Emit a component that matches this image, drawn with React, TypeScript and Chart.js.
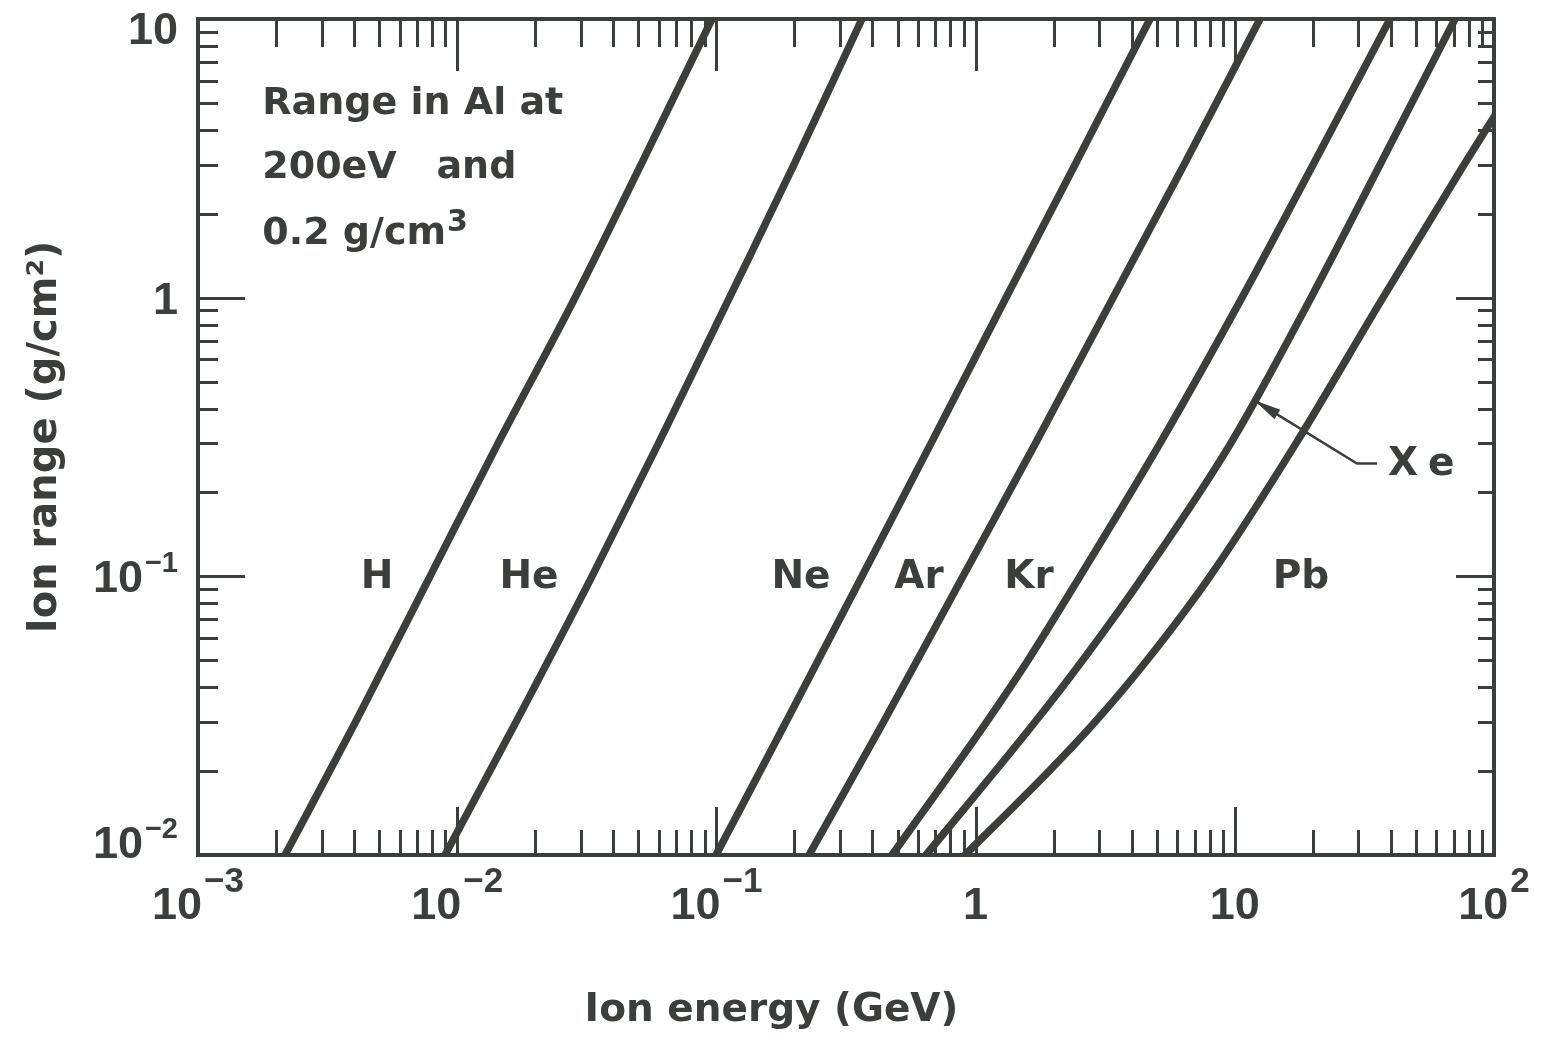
import React, { useEffect, useRef } from 'react';
import { Chart, registerables } from 'chart.js';

Chart.register(...registerables);

const INK = '#3a3f3b';
const TEXT_FAMILY = '"DejaVu Sans", "Liberation Sans", sans-serif';
const NUM_FAMILY = '"Liberation Sans", "DejaVu Sans", sans-serif';

// ---- curves: ion energy (GeV) vs. range in Al (g/cm^2) ----
const hEnergy = [0.002166, 0.004053, 0.007855, 0.01437, 0.02848, 0.05118, 0.09617];
const hRange = [0.01, 0.03, 0.1, 0.3, 1, 3, 10];
const heEnergy = [0.008973, 0.01686, 0.03312, 0.05978, 0.1123, 0.1992, 0.3645];
const heRange = [0.01, 0.03, 0.1, 0.3, 1, 3, 10];
const neEnergy = [0.09965, 0.1856, 0.3645, 0.6728, 1.310, 2.418, 4.709];
const neRange = [0.01, 0.03, 0.1, 0.3, 1, 3, 10];
const arEnergy = [0.2276, 0.4413, 0.8942, 1.702, 3.390, 6.370, 12.51];
const arRange = [0.01, 0.03, 0.1, 0.3, 1, 3, 10];
const krEnergy = [0.4759, 1.102, 1.593, 2.528, 5.145, 10.66, 20.04, 39.70];
const krRange = [0.01, 0.03, 0.05, 0.1, 0.3, 1, 3, 10];
const xeEnergy = [0.6436, 1.695, 2.587, 4.425, 9.642, 19.68, 36.32, 70.72];
const xeRange = [0.01, 0.03, 0.05, 0.1, 0.3, 1, 3, 10];
const pbEnergy = [0.9102, 1.920, 2.888, 4.585, 8.023, 17.22, 37.30, 76.59, 100];
const pbRange = [0.01, 0.02, 0.03, 0.05, 0.1, 0.3, 1, 3, 4.45];

const seriesNames = ['H', 'He', 'Ne', 'Ar', 'Kr', 'Xe', 'Pb'];
const seriesEnergy = [hEnergy, heEnergy, neEnergy, arEnergy, krEnergy, xeEnergy, pbEnergy];
const seriesRange = [hRange, heRange, neRange, arRange, krRange, xeRange, pbRange];

// ---- axes ----
const xMin = 0.001;
const xMax = 100;
const yMin = 0.01;
const yMax = 10;
const xTickValues = [0.001, 0.01, 0.1, 1, 10, 100];
const xTickBase = ['10', '10', '10', '1', '10', '10'];
const xTickExp = ['\u22123', '\u22122', '\u22121', '', '', '2'];
const yTickValues = [0.01, 0.1, 1, 10];
const yTickBase = ['10', '10', '1', '10'];
const yTickExp = ['\u22122', '\u22121', '', ''];
const minorSteps = [1, 2, 3, 4, 5, 6, 7, 8, 9];
const xTitle = 'Ion energy (GeV)';
const yTitle = 'Ion range (g/cm\u00B2)';

// ---- annotations (anchored in data units) ----
const curveLabelNames = ['H', 'He', 'Ne', 'Ar', 'Kr', 'Pb'];
const curveLabelEnergy = [0.004905, 0.01892, 0.212, 0.6047, 1.607, 18.0];
const curveLabelRange = [0.1, 0.1, 0.1, 0.1, 0.1, 0.1];
const xeLabelText = 'Xe';
const xeLabelEnergy = 39.0;
const xeLabelRange = 0.254;
const xeLeaderEnergy = [35.4, 29.6, 11.9];
const xeLeaderRange = [0.254, 0.254, 0.428];
const noteLines = ['Range in Al at', '200eV   and', '0.2 g/cm'];
const noteSup = ['', '', '3'];
const noteEnergy = 0.00177;
const noteRange = [4.565, 2.692, 1.561];

function drawPower(ctx: any, base: string, exp: string, x: number, cy: number, align: string, baseSize: number, expSize: number, raise: number) {
  ctx.textBaseline = 'alphabetic';
  ctx.textAlign = 'left';
  ctx.font = `bold ${baseSize}px ${NUM_FAMILY}`;
  const bw = ctx.measureText(base).width;
  let ew = 0;
  if (exp) {
    ctx.font = `bold ${expSize}px ${NUM_FAMILY}`;
    ew = ctx.measureText(exp).width + 2;
  }
  const total = bw + ew;
  const left = align === 'center' ? x - total / 2 : x - total;
  const baseline = cy + baseSize * 0.716 / 2;
  ctx.font = `bold ${baseSize}px ${NUM_FAMILY}`;
  ctx.fillText(base, left, baseline);
  if (exp) {
    ctx.font = `bold ${expSize}px ${NUM_FAMILY}`;
    ctx.fillText(exp, left + bw + 2, baseline - raise);
  }
}

const decorPlugin = {
  id: 'decor',
  afterDatasetsDraw(chart: any) {
    const { ctx, chartArea: a } = chart;
    const xs = chart.scales.x;
    const ys = chart.scales.y;
    ctx.save();
    ctx.strokeStyle = INK;
    ctx.fillStyle = INK;
    ctx.lineCap = 'butt';

    // inward tick marks on all four sides
    ctx.lineWidth = 3;
    xTickValues.forEach((dec) => {
      minorSteps.forEach((m) => {
        const v = dec * m;
        if (v <= xMin * 1.0001 || v >= xMax * 0.9999) return;
        const px = Math.round(xs.getPixelForValue(v)) + 0.5;
        const major = m === 1;
        ctx.beginPath();
        ctx.moveTo(px, a.bottom);
        ctx.lineTo(px, a.bottom - (major ? 48 : 25));
        ctx.moveTo(px, a.top);
        ctx.lineTo(px, a.top + (major ? 52 : 28));
        ctx.stroke();
      });
    });
    yTickValues.forEach((dec) => {
      minorSteps.forEach((m) => {
        const v = dec * m;
        if (v <= yMin * 1.0001 || v >= yMax * 0.9999) return;
        const py = Math.round(ys.getPixelForValue(v)) + 0.5;
        const major = m === 1;
        ctx.beginPath();
        ctx.moveTo(a.left, py);
        ctx.lineTo(a.left + (major ? 47 : 20), py);
        ctx.moveTo(a.right, py);
        ctx.lineTo(a.right - (major ? 38 : 16), py);
        ctx.stroke();
      });
    });

    // frame
    ctx.lineWidth = 4;
    ctx.strokeRect(a.left, a.top, a.right - a.left, a.bottom - a.top);

    // tick labels
    xTickValues.forEach((v, i) => {
      drawPower(ctx, xTickBase[i], xTickExp[i], xs.getPixelForValue(v), a.bottom + 48, 'center', 45, 35, 27);
    });
    yTickValues.forEach((v, i) => {
      const py = Math.max(a.top + 9, Math.min(ys.getPixelForValue(v), a.bottom - 13));
      drawPower(ctx, yTickBase[i], yTickExp[i], a.left - 20, py, 'right', 45, 29, 20);
    });

    // curve labels
    ctx.font = `bold 39px ${TEXT_FAMILY}`;
    ctx.textAlign = 'center';
    ctx.textBaseline = 'middle';
    curveLabelNames.forEach((name, i) => {
      ctx.fillText(name, xs.getPixelForValue(curveLabelEnergy[i]), ys.getPixelForValue(curveLabelRange[i]) + 2);
    });

    // Xe label with leader and arrow
    ctx.textAlign = 'left';
    try { ctx.letterSpacing = '11px'; } catch (e) {}
    ctx.fillText(xeLabelText, xs.getPixelForValue(xeLabelEnergy), ys.getPixelForValue(xeLabelRange) + 1);
    try { ctx.letterSpacing = '0px'; } catch (e) {}
    const pts = xeLeaderEnergy.map((e, i) => [xs.getPixelForValue(e), ys.getPixelForValue(xeLeaderRange[i])]);
    ctx.lineWidth = 2.5;
    ctx.beginPath();
    pts.forEach((p, i) => (i === 0 ? ctx.moveTo(p[0], p[1]) : ctx.lineTo(p[0], p[1])));
    ctx.stroke();
    const tip = pts[pts.length - 1];
    const prev = pts[pts.length - 2];
    const dx = tip[0] - prev[0];
    const dy = tip[1] - prev[1];
    const len = Math.hypot(dx, dy);
    const ux = dx / len;
    const uy = dy / len;
    const bx = tip[0] - ux * 27;
    const by = tip[1] - uy * 27;
    ctx.beginPath();
    ctx.moveTo(tip[0], tip[1]);
    ctx.lineTo(bx - uy * 5.5, by + ux * 5.5);
    ctx.lineTo(bx + uy * 5.5, by - ux * 5.5);
    ctx.closePath();
    ctx.fill();

    // note block
    ctx.textAlign = 'left';
    ctx.textBaseline = 'alphabetic';
    noteLines.forEach((line, i) => {
      const nx = xs.getPixelForValue(noteEnergy);
      const ny = ys.getPixelForValue(noteRange[i]);
      ctx.font = `bold 38px ${TEXT_FAMILY}`;
      ctx.fillText(line, nx, ny);
      if (noteSup[i]) {
        const w = ctx.measureText(line).width;
        ctx.font = `bold 30px ${TEXT_FAMILY}`;
        ctx.fillText(noteSup[i], nx + w + 1, ny - 13);
      }
    });

    ctx.restore();
  },
};

export default function App() {
  const ref = useRef<HTMLCanvasElement>(null);
  useEffect(() => {
    const datasets = seriesNames.map((name, i) => ({
      label: name,
      data: seriesEnergy[i].map((x, j) => ({ x, y: seriesRange[i][j] })),
      borderColor: INK,
      backgroundColor: INK,
      borderWidth: 7.5,
      borderCapStyle: 'square',
      borderJoinStyle: 'round',
      pointRadius: 0,
      cubicInterpolationMode: 'monotone',
      fill: false,
      clip: 0,
    }));
    const chart = new Chart(ref.current as HTMLCanvasElement, {
      type: 'line',
      data: { datasets } as any,
      options: {
        responsive: false,
        animation: false,
        devicePixelRatio: 1,
        layout: { padding: 0 },
        events: [],
        plugins: {
          legend: { display: false },
          tooltip: { enabled: false },
          title: {
            display: true,
            position: 'bottom',
            text: xTitle,
            color: INK,
            font: { family: TEXT_FAMILY, size: 39, weight: 'bold', lineHeight: 1 },
            padding: { top: 0, bottom: 1 },
          },
        },
        scales: {
          x: {
            type: 'logarithmic',
            position: 'bottom',
            min: xMin,
            max: xMax,
            grid: { display: false },
            border: { display: false },
            ticks: { display: false },
            afterFit: (s: any) => {
              s.height = 136;
              s.paddingLeft = 0;
              s.paddingRight = 41;
            },
          },
          y: {
            type: 'logarithmic',
            position: 'left',
            min: yMin,
            max: yMax,
            grid: { display: false },
            border: { display: false },
            ticks: { display: false },
            title: {
              display: true,
              text: yTitle,
              color: INK,
              font: { family: TEXT_FAMILY, size: 40, weight: 'bold', lineHeight: 1 },
              padding: { top: 18, bottom: 0 },
            },
            afterFit: (s: any) => {
              s.width = 190;
              s.paddingTop = 11;
              s.paddingBottom = 0;
            },
          },
        },
      } as any,
      plugins: [decorPlugin],
    });
    return () => chart.destroy();
  }, []);
  return (
    <div style={{ width: 1527, height: 1023 }}>
      <canvas ref={ref} width={1527} height={1023} style={{ display: 'block', width: 1527, height: 1023 }} />
    </div>
  );
}
